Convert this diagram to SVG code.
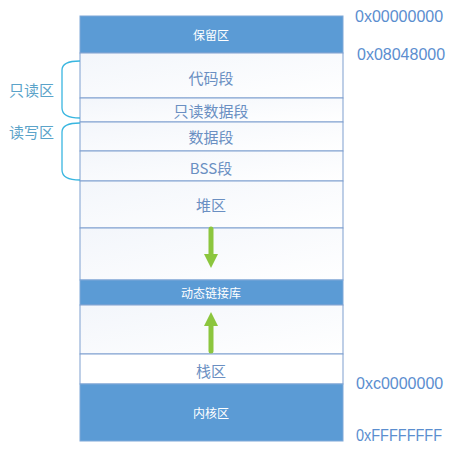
<svg xmlns="http://www.w3.org/2000/svg" width="459" height="456" viewBox="0 0 459 456">
<defs>
<linearGradient id="lg" x1="0" y1="0" x2="1" y2="1">
<stop offset="0" stop-color="#f3f6fb"/>
<stop offset="1" stop-color="#ffffff"/>
</linearGradient>
<style>
.blue{fill:#5b9bd5;stroke:#7fa8d8;stroke-width:1}
.light{fill:url(#lg);stroke:#7f9fcf;stroke-width:1}
.t{font-family:"Noto Sans CJK SC","Liberation Sans",sans-serif;font-size:15px;fill:#6a8fc2;text-anchor:middle;dominant-baseline:central}
.w{font-family:"Noto Sans CJK SC","Liberation Sans",sans-serif;font-size:12px;fill:#ffffff;text-anchor:middle;dominant-baseline:central}
.a{font-family:"Liberation Sans","Noto Sans",sans-serif;font-size:16px;fill:#5b8ecf}
.l{font-family:"Noto Sans CJK SC",sans-serif;font-size:15px;fill:#5ba3c9}
.br{fill:none;stroke:#39b6e0;stroke-width:1.3}
.arr{stroke:#8cc63e;stroke-width:5;stroke-linecap:round;fill:none}
.ah{fill:#8cc63e}
</style>
</defs>
<g id="n-reserved"><rect class="blue" x="80" y="16" width="263" height="37"/><text class="w" x="211" y="34">保留区</text></g>
<g id="n-code"><rect class="light" x="80" y="53" width="263" height="45"/><text class="t" x="211" y="77">代码段</text></g>
<g id="n-rodata"><rect class="light" x="80" y="98" width="263" height="24"/><text class="t" x="211" y="110">只读数据段</text></g>
<g id="n-data"><rect class="light" x="80" y="122" width="263" height="29"/><text class="t" x="211" y="136">数据段</text></g>
<g id="n-bss"><rect class="light" x="80" y="151" width="263" height="30"/><text class="t" x="211" y="167">BSS段</text></g>
<g id="n-heap"><rect class="light" x="80" y="181" width="263" height="47"/><text class="t" x="211" y="204">堆区</text></g>
<g id="n-gap1"><rect class="light" x="80" y="228" width="263" height="52"/></g>
<g id="n-dll"><rect class="blue" x="80" y="280" width="263" height="25"/><text class="w" x="211" y="292">动态链接库</text></g>
<g id="n-gap2"><rect class="light" x="80" y="305" width="263" height="49"/></g>
<g id="n-stack"><rect fill="#ffffff" stroke="#7f9fcf" x="80" y="354" width="263" height="30"/><text class="t" x="211" y="370">栈区</text></g>
<g id="n-kernel"><rect class="blue" x="80" y="384" width="263" height="57"/><text class="w" x="211" y="412">内核区</text></g>
<g id="addr">
<text class="a" x="355" y="22">0x00000000</text>
<text class="a" x="357" y="60">0x08048000</text>
<text class="a" x="356" y="389">0xc0000000</text>
<text class="a" x="356" y="441" textLength="86" lengthAdjust="spacingAndGlyphs">0xFFFFFFFF</text>
</g>
<g id="n-ro"><path class="br" d="M80 61 Q62 61 62 70 L62 108 Q62 118 80 118"/><text class="l" x="9" y="96">只读区</text></g>
<g id="n-rw"><path class="br" d="M80 123 Q62 123 62 132 L62 170 Q62 180 80 180"/><text class="l" x="9" y="138">读写区</text></g>
<g id="connectors">
<line class="arr" x1="211" y1="229" x2="211" y2="256"/>
<polygon class="ah" points="204,254 218,254 211,268"/>
<line class="arr" x1="211" y1="351" x2="211" y2="324"/>
<polygon class="ah" points="204,326 218,326 211,312"/>
</g>
</svg>
